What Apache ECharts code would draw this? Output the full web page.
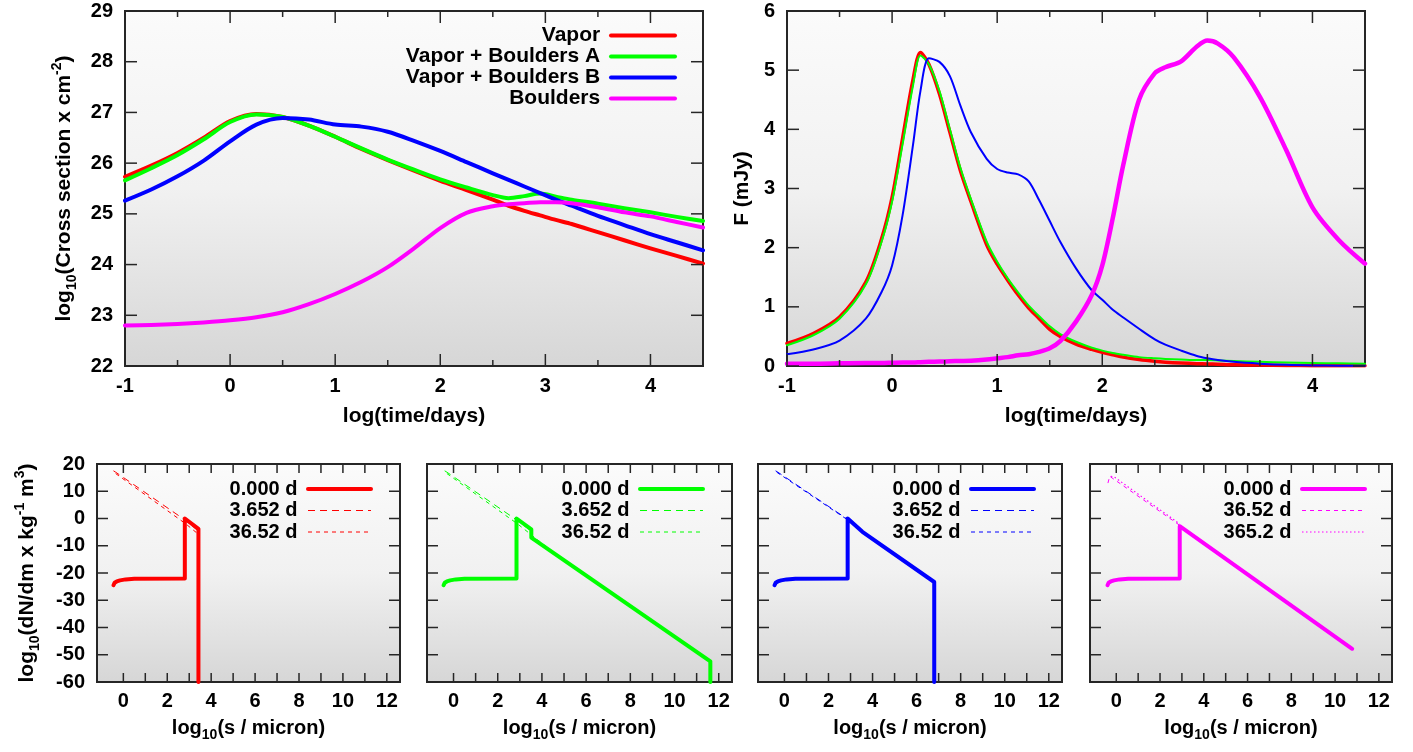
<!DOCTYPE html>
<html><head><meta charset="utf-8">
<script src="https://cdn.jsdelivr.net/npm/echarts@6/dist/echarts.min.js"></script>
<style>html,body{margin:0;padding:0;background:#fff}#c{width:1413px;height:752px}</style>
</head><body><div id="c"></div>
<script>
// ---------- DATA ----------
// Top-left: log10 cross section vs log(time/days)
const timeCS = [-1,-0.75,-0.5,-0.25,0,0.25,0.5,0.75,1,1.25,1.5,1.75,2,2.25,2.5,2.65,2.8,2.95,3.1,3.25,3.5,3.75,4,4.25,4.5];
const csVapor     = [25.73,25.95,26.2,26.5,26.83,26.97,26.91,26.74,26.52,26.28,26.06,25.85,25.65,25.47,25.28,25.16,25.06,24.97,24.88,24.8,24.64,24.48,24.32,24.17,24.02];
const csBouldersA = [25.66,25.9,26.16,26.47,26.81,26.96,26.91,26.74,26.52,26.29,26.07,25.87,25.68,25.52,25.37,25.31,25.35,25.4,25.34,25.28,25.2,25.11,25.03,24.94,24.86];
const csBouldersB = [25.26,25.48,25.74,26.05,26.43,26.76,26.89,26.86,26.76,26.72,26.62,26.44,26.24,26.02,25.8,25.67,25.54,25.41,25.28,25.16,24.96,24.78,24.6,24.44,24.28];
const csBoulders  = [22.8,22.81,22.83,22.86,22.9,22.96,23.06,23.22,23.42,23.66,23.95,24.32,24.72,25.02,25.15,25.19,25.21,25.23,25.23,25.21,25.13,25.03,24.95,24.84,24.73];

// Top-right: flux F (mJy) vs log(time/days)
const timeF = [-1,-0.75,-0.5,-0.25,-0.1,0,0.1,0.2,0.27,0.35,0.45,0.55,0.65,0.75,0.9,1,1.1,1.2,1.3,1.4,1.5,1.6,1.75,1.9,2,2.1,2.2,2.35,2.5,2.6,2.75,2.9,3,3.1,3.25,3.5,3.75,4,4.25,4.5];
const fVapor     = [0.38,0.55,0.83,1.42,2.15,2.85,3.85,4.85,5.3,5.1,4.6,3.95,3.3,2.78,2.05,1.72,1.45,1.2,0.98,0.8,0.62,0.5,0.37,0.28,0.23,0.19,0.15,0.11,0.08,0.065,0.05,0.04,0.035,0.03,0.02,0.015,0.01,0.006,0.004,0.003];
const fBouldersA = [0.35,0.52,0.8,1.38,2.1,2.78,3.75,4.75,5.25,5.1,4.65,4.0,3.35,2.82,2.1,1.76,1.48,1.24,1.02,0.84,0.67,0.54,0.41,0.31,0.26,0.22,0.19,0.15,0.13,0.12,0.11,0.1,0.1,0.095,0.085,0.07,0.06,0.05,0.045,0.04];
const fBouldersB = [0.2,0.28,0.43,0.8,1.25,1.7,2.55,3.75,4.65,5.2,5.14,4.9,4.4,3.95,3.5,3.33,3.27,3.24,3.12,2.8,2.45,2.1,1.65,1.28,1.12,0.95,0.82,0.63,0.45,0.36,0.26,0.17,0.13,0.1,0.07,0.04,0.02,0.01,0.005,0.003];
const fBoulders  = [0.04,0.04,0.045,0.05,0.05,0.055,0.06,0.06,0.065,0.07,0.075,0.08,0.085,0.09,0.11,0.13,0.15,0.18,0.2,0.24,0.3,0.42,0.75,1.2,1.7,2.5,3.4,4.5,4.95,5.05,5.15,5.4,5.5,5.45,5.22,4.55,3.65,2.68,2.13,1.73];

// Bottom: log10(dN/dm) vs log10(s/micron)
const sizeR0 = [-0.45,-0.4,-0.3,-0.15,0.1,0.5,2.8,2.8,3.42,3.42];
const dndmR0 = [-24.5,-23.6,-23.1,-22.7,-22.35,-22.1,-22,0,-3.8,-60];
const sizeR1 = [-0.45,-0.35,2.8,3.4,3.4];
const dndmR1 = [17.5,17.0,-0.5,-4.5,-7.5];
const sizeR2 = [-0.35,2.85,3.45,3.45];
const dndmR2 = [16.5,-2,-6,-10];

const sizeG0 = [-0.45,-0.4,-0.3,-0.15,0.1,0.5,2.85,2.85,3.52,3.52,11.62,11.62];
const dndmG0 = [-24.5,-23.6,-23.1,-22.7,-22.35,-22.1,-22,0,-4,-7,-52.4,-60];
const sizeG1 = [-0.4,-0.3,2.85,3.5,3.5,4.3];
const dndmG1 = [17.5,17,-0.5,-4.5,-7.5,-11.5];
const sizeG2 = [-0.3,2.9,3.6,4.3];
const dndmG2 = [16.5,-2,-6.5,-11];

const sizeB0 = [-0.45,-0.4,-0.3,-0.15,0.1,0.5,2.87,2.87,3.54,6.8,6.8];
const dndmB0 = [-24.5,-23.6,-23.1,-22.7,-22.35,-22.1,-22,0,-4.9,-23.3,-60];
const sizeB1 = [-0.4,-0.3,2.87];
const dndmB1 = [17.5,17,-0.3];
const sizeB2 = [-0.35,2.87];
const dndmB2 = [17,-0.5];

const sizeM0 = [-0.4,-0.35,-0.25,-0.1,0.15,0.55,2.9,2.9,10.78];
const dndmM0 = [-24.5,-23.6,-23.1,-22.7,-22.35,-22.1,-22,-2.8,-47.8];
const sizeM1 = [-0.38,-0.3,2.9];
const dndmM1 = [13,15.5,-2.5];
const sizeM2 = [-0.25,-0.1,2.9];
const dndmM2 = [15.5,15.3,-2];

// Legend labels
const topLegend = ['Vapor','Vapor + Boulders A','Vapor + Boulders B','Boulders'];
const epochLabels = ['0.000 d','3.652 d','36.52 d'];
const epochLabelsB = ['0.000 d','36.52 d','365.2 d'];

// Tick values
const ticksTimeMajor = [-1,0,1,2,3,4];
const ticksTimeMinor = [-0.5,0.5,1.5,2.5,3.5];
const ticksCS = [22,23,24,25,26,27,28,29];
const ticksF = [0,1,2,3,4,5,6];
const ticksSize = [0,1,2,3,4,5,6,7,8,9,10,11,12];
const labelsSize = [0,2,4,6,8,10,12];
const ticksDndm = [-60,-50,-40,-30,-20,-10,0,10,20];

// ---------- LAYOUT / STYLE ----------
const FONT = '"Liberation Sans", Arial, sans-serif';
const RED='#ff0000', GREEN='#00ff00', BLUE='#0000ff', MAG='#ff00ff';
const FRAME = '#262626';
const bg = {type:'linear',x:0,y:0,x2:0,y2:1,colorStops:[{offset:0,color:'#fbfbfb'},{offset:0.5,color:'#f1f1f1'},{offset:1,color:'#d6d6d6'}]};

const gridBoxes = [
  {left:125, top:11, width:578, height:355},
  {left:787, top:11, width:578, height:355},
  {left:97,  top:464, width:303, height:218},
  {left:427, top:464, width:305, height:218},
  {left:758, top:464, width:304, height:218},
  {left:1090,top:464, width:302, height:218}
];
const grid = gridBoxes.map(b => Object.assign({show:true, backgroundColor:bg, borderColor:FRAME, borderWidth:2, containLabel:false}, b));

function richName(fs){
  return {
    n:{fontFamily:FONT,fontWeight:'bold',fontSize:fs,color:'#000',lineHeight:fs+8},
    s:{fontFamily:FONT,fontWeight:'bold',fontSize:Math.round(fs*0.68),color:'#000',lineHeight:Math.round(fs*0.68),verticalAlign:'bottom'},
    p:{fontFamily:FONT,fontWeight:'bold',fontSize:Math.round(fs*0.68),color:'#000',lineHeight:Math.round(fs*0.68),verticalAlign:'top'}
  };
}
function axis(gi, pos, cfg){
  const ax = {
    type:'value', gridIndex:gi, min:cfg.min, max:cfg.max, position:pos,
    axisLine:{show:false, onZero:false}, splitLine:{show:false}, axisTick:{show:false},
    axisLabel: cfg.labels ? {show:true, customValues:cfg.labels, margin:cfg.margin, color:'#000', fontFamily:FONT, fontWeight:'bold', fontSize:cfg.fontSize} : {show:false},
    axisPointer:{show:false}
  };
  if (cfg.name){
    ax.name = cfg.name; ax.nameLocation='middle'; ax.nameGap=cfg.nameGap;
    ax.nameTextStyle = {fontFamily:FONT, fontWeight:'bold', fontSize:cfg.nameSize, color:'#000', rich:richName(cfg.nameSize)};
  }
  return ax;
}
const xAxis = [
  axis(0,'bottom',{min:-1,max:4.5,labels:ticksTimeMajor,margin:10,fontSize:20,name:'log(time/days)',nameGap:40,nameSize:21}),
  axis(1,'bottom',{min:-1,max:4.5,labels:ticksTimeMajor,margin:10,fontSize:20,name:'log(time/days)',nameGap:40,nameSize:21})
];
const yAxis = [
  axis(0,'left',{min:22,max:29,labels:ticksCS,margin:12,fontSize:20,name:'{n|log}{s|10}{n|(Cross section x cm}{p|-2}{n|)}',nameGap:46,nameSize:21}),
  axis(1,'left',{min:0,max:6,labels:ticksF,margin:12,fontSize:20,name:'F (mJy)',nameGap:34,nameSize:21})
];
for (let k=0;k<4;k++){
  xAxis.push(axis(2+k,'bottom',{min:-1.2,max:12.6,labels:labelsSize,margin:9,fontSize:20,name:'{n|log}{s|10}{n|(s / micron)}',nameGap:32,nameSize:20}));
  yAxis.push(axis(2+k,'left',{min:-60,max:20,labels:k===0?ticksDndm:null,margin:12,fontSize:20,name:k===0?'{n|log}{s|10}{n|(dN/dm x kg}{p|-1}{n| m}{p|3}{n|)}':null,nameGap:55,nameSize:21}));
}
// tick marks (drawn inward on all four sides of each frame)
const tickSpec = [
  {x:ticksTimeMajor, xm:ticksTimeMinor, y:ticksCS, lx:12, lxm:6, ly:12},
  {x:ticksTimeMajor, xm:ticksTimeMinor, y:ticksF, lx:12, lxm:6, ly:12},
  {x:ticksSize, y:ticksDndm, lx:9, ly:11},
  {x:ticksSize, y:ticksDndm, lx:9, ly:11},
  {x:ticksSize, y:ticksDndm, lx:9, ly:11},
  {x:ticksSize, y:ticksDndm, lx:9, ly:11}
];

function pairs(xs, ys){ return xs.map((x,i)=>[x, ys[i]]); }
function line(name, gi, xs, ys, color, width, extra){
  return Object.assign({
    type:'line', name, xAxisIndex:gi, yAxisIndex:gi, data:pairs(xs,ys),
    symbol:'none', showSymbol:false, silent:true, animation:false,
    lineStyle:{color, width, type:'solid', cap:'round', join:'round'}, itemStyle:{color},
    emphasis:{disabled:true}
  }, extra||{});
}
const SM = {smooth:0.3};
const dash1 = [7,5], dash2 = [4,4], dots = [1.5,2.5];

const series = [
  line('Vapor', 0, timeCS, csVapor, RED, 4, SM),
  line('Vapor + Boulders A', 0, timeCS, csBouldersA, GREEN, 4, SM),
  line('Vapor + Boulders B', 0, timeCS, csBouldersB, BLUE, 4, SM),
  line('Boulders', 0, timeCS, csBoulders, MAG, 4, SM),

  line('F Vapor', 1, timeF, fVapor, RED, 3.5, SM),
  line('F Vapor + Boulders A', 1, timeF, fBouldersA, GREEN, 2, SM),
  line('F Vapor + Boulders B', 1, timeF, fBouldersB, BLUE, 2, SM),
  line('F Boulders', 1, timeF, fBoulders, MAG, 4.5, SM),

  line('r1', 2, sizeR1, dndmR1, RED, 1, {lineStyle:{color:RED,width:1,type:dash1}}),
  line('r2', 2, sizeR2, dndmR2, RED, 1, {lineStyle:{color:RED,width:1,type:dash2}}),
  line('r0', 2, sizeR0, dndmR0, RED, 4),

  line('g1', 3, sizeG1, dndmG1, GREEN, 1, {lineStyle:{color:GREEN,width:1,type:dash1}}),
  line('g2', 3, sizeG2, dndmG2, GREEN, 1, {lineStyle:{color:GREEN,width:1,type:dash2}}),
  line('g0', 3, sizeG0, dndmG0, GREEN, 4),

  line('b1', 4, sizeB1, dndmB1, BLUE, 1, {lineStyle:{color:BLUE,width:1,type:dash1}}),
  line('b2', 4, sizeB2, dndmB2, BLUE, 1, {lineStyle:{color:BLUE,width:1,type:dash2}}),
  line('b0', 4, sizeB0, dndmB0, BLUE, 4),

  line('m1', 5, sizeM1, dndmM1, MAG, 1, {lineStyle:{color:MAG,width:1,type:dash2}}),
  line('m2', 5, sizeM2, dndmM2, MAG, 1, {lineStyle:{color:MAG,width:1.2,type:dots}}),
  line('m0', 5, sizeM0, dndmM0, MAG, 4)
];

const labelMap = {
  r0:epochLabels[0], r1:epochLabels[1], r2:epochLabels[2],
  g0:epochLabels[0], g1:epochLabels[1], g2:epochLabels[2],
  b0:epochLabels[0], b1:epochLabels[1], b2:epochLabels[2],
  m0:epochLabelsB[0], m1:epochLabelsB[1], m2:epochLabelsB[2]
};
function legendBase(){
  return {orient:'vertical', align:'right', padding:0, selectedMode:false,
    itemHeight:14, lineStyle:{width:'inherit'}, itemStyle:{opacity:0, borderWidth:0},
    textStyle:{fontFamily:FONT, fontWeight:'bold', color:'#000'}};
}
const legend = [
  Object.assign(legendBase(), {data:topLegend, right:1413-677, top:25, itemWidth:64, itemGap:0,
    textStyle:{fontFamily:FONT,fontWeight:'bold',color:'#000',fontSize:21,lineHeight:20},
    formatter:n=>n+' '})
];
const iconRight = [373,705,1036,1367];
[['r0','r1','r2'],['g0','g1','g2'],['b0','b1','b2'],['m0','m1','m2']].forEach((names,k)=>{
  legend.push(Object.assign(legendBase(), {data:names, right:1413-iconRight[k], top:479, itemWidth:63, itemGap:1.5,
    textStyle:{fontFamily:FONT,fontWeight:'bold',color:'#000',fontSize:20,lineHeight:18},
    formatter:n=>labelMap[n]+' '}));
});

const chart = echarts.init(document.getElementById('c'), null, {renderer:'canvas'});
chart.setOption({animation:false, backgroundColor:'#fff', grid, xAxis, yAxis, legend, series});

// Build tick marks from the library's own axis scales.
const tickEls = [];
const tickStyle = {stroke:FRAME, lineWidth:1.5};
tickSpec.forEach((t, gi) => {
  const b = gridBoxes[gi];
  const top = b.top, bottom = b.top + b.height, left = b.left, right = b.left + b.width;
  const y0 = yAxis[gi].min;
  const x0 = xAxis[gi].min;
  const addX = (vals, len) => (vals||[]).forEach(v => {
    const px = chart.convertToPixel({gridIndex:gi}, [v, y0])[0];
    tickEls.push({type:'line', silent:true, z:50, shape:{x1:px,y1:bottom,x2:px,y2:bottom-len}, style:tickStyle});
    tickEls.push({type:'line', silent:true, z:50, shape:{x1:px,y1:top,x2:px,y2:top+len}, style:tickStyle});
  });
  const addY = (vals, len) => (vals||[]).forEach(v => {
    const py = chart.convertToPixel({gridIndex:gi}, [x0, v])[1];
    tickEls.push({type:'line', silent:true, z:50, shape:{x1:left,y1:py,x2:left+len,y2:py}, style:tickStyle});
    tickEls.push({type:'line', silent:true, z:50, shape:{x1:right,y1:py,x2:right-len,y2:py}, style:tickStyle});
  });
  addX(t.x, t.lx); addX(t.xm, t.lxm); addY(t.y, t.ly);
});
chart.setOption({graphic:{elements:tickEls}});
</script></body></html>
